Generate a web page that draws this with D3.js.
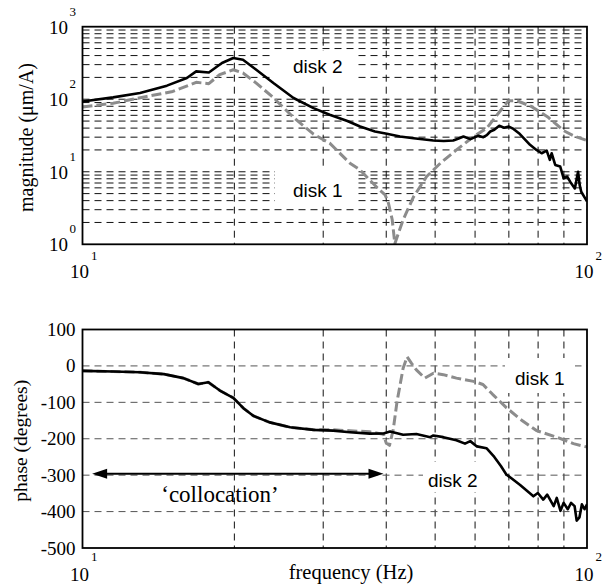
<!DOCTYPE html>
<html>
<head>
<meta charset="utf-8">
<script src="https://cdn.jsdelivr.net/npm/d3@7/dist/d3.min.js"></script>
<style>
  body { margin: 0; background: #fff; }
  svg { display: block; }
</style>
</head>
<body>
<script>
// ---------- data ----------
const magFreq2 = [10, 11.5, 13.0, 14.7, 16.1, 16.8, 17.8, 18.9, 19.9, 20.8, 22.1, 23.9, 26.2, 28.7, 30.9, 33.5, 35.5, 38.0, 40.1, 42.6, 45.3, 49.6, 52.0, 54.3, 55.5, 56.9, 58.7, 60.9, 62.3, 63.3, 64.3, 65.5, 67.0, 68.5, 70.0, 71.5, 73.3, 74.9, 77.1, 79.4, 81.3, 83.2, 84.4, 85.1, 86.5, 88.5, 89.9, 91.3, 92.6, 94.6, 96.0, 96.7, 97.4, 100];
const magDisk2 = [93, 106, 122, 154, 196, 242, 234, 316, 370, 351, 255, 167, 104, 75.5, 61, 50, 42, 36, 33.5, 30.6, 29, 27, 26.5, 27, 28.5, 30.6, 28.2, 31.3, 30.0, 32, 35.9, 38, 43, 40.5, 42, 39, 34, 29.1, 23.5, 20.0, 18, 19.6, 14.6, 18, 12.4, 11.8, 8.1, 8.6, 7.3, 5.9, 10.0, 6.6, 5.3, 3.9];

const magFreq1 = [10, 11.5, 13.4, 15.1, 16.8, 17.8, 18.7, 19.9, 20.8, 22.1, 23.9, 26.2, 28.7, 30.9, 33.9, 35.5, 37.1, 38.8, 39.8, 40.4, 41.1, 41.6, 42.4, 43.2, 45.3, 48.1, 51.2, 55.1, 59.6, 63.3, 66.5, 69.8, 72.5, 77.7, 83.6, 89.8, 94.4, 100];
const magDisk1 = [78, 88, 109, 128, 171, 164, 218, 255, 230, 167, 105, 56, 33, 24.8, 13.1, 10.6, 7.7, 5.6, 4.8, 3.7, 2.2, 1.02, 1.5, 2.17, 4.5, 8.6, 13.1, 20, 30.6, 40, 62, 95, 96, 79, 57, 37, 31, 27];

const phFreq2 = [10, 11.5, 13.0, 14.5, 15.85, 16.97, 17.76, 18.72, 19.9, 20.84, 21.8, 23.5, 25.8, 28.7, 31.4, 33.9, 37.1, 39.5, 40.7, 43.2, 45.9, 48.9, 49.6, 51.9, 55.1, 57.3, 58.7, 60.5, 63.2, 65.5, 67.5, 69.2, 73.7, 78.3, 79.9, 81.9, 83.4, 85.9, 87.1, 88.6, 89.9, 91.6, 93.0, 94.5, 95.4, 96.6, 97.7, 98.9, 100];
const phDisk2 = [-13.5, -15.4, -17.3, -22.6, -33.5, -49.6, -45, -67.6, -87.6, -116, -137, -155, -168.6, -175.7, -177.6, -182, -186, -185.5, -180, -189, -187, -195.6, -191, -195.6, -204, -213.5, -206.5, -221, -226, -250, -275, -298, -327, -358, -349, -367, -353.5, -385, -362.6, -398, -376, -393.6, -376, -385, -425, -416, -380, -393.6, -380];

const phFreq1 = [10, 11.5, 13.0, 14.5, 15.85, 16.97, 17.76, 18.72, 19.9, 20.84, 21.8, 23.5, 25.8, 28.7, 31.4, 33.9, 37.1, 39.5, 40.0, 40.6, 41.3, 42.0, 43.2, 44.0, 44.9, 45.9, 47.7, 49.6, 51.9, 55.1, 59.6, 62.2, 65.0, 69.2, 73.7, 79.4, 87.1, 94.0, 100];
const phDisk1 = [-13.5, -15.4, -17.3, -22.6, -33.5, -49.6, -45, -67.6, -87.6, -116, -137, -155, -168.6, -175, -175.5, -178, -181, -188, -212, -218, -175, -100, -6.5, 25, 7, -11, -33.5, -20, -24, -33.5, -42.4, -51, -78, -114.6, -146, -177.6, -195.6, -213.5, -222.7];

const freqTicks = [10, 100];
const freqTickExp = ["1", "2"];
const magTicks = [1, 10, 100, 1000];
const magTickExp = ["0", "1", "2", "3"];
const phaseTicks = [100, 0, -100, -200, -300, -400, -500];
const collocation = { from: 10.45, to: 39.5, phase: -300 };

// ---------- layout ----------
const W = 605, H = 585;
const L = 82.5, R = 587;
const magTop = 26.7, magBot = 244.3;
const phTop = 329.5, phBot = 548;
const serif = "'Liberation Serif', 'Times New Roman', serif";
const sans = "'Liberation Sans', Arial, sans-serif";

const svg = d3.select("body").append("svg").attr("width", W).attr("height", H);

const x = d3.scaleLog().domain([10, 100]).range([L, R]);
const yMag = d3.scaleLog().domain([1, 1000]).range([magBot, magTop]);
const yPh = d3.scaleLinear().domain([-500, 100]).range([phBot, phTop]);

const defs = svg.append("defs");
defs.append("clipPath").attr("id", "clipMag").append("rect")
  .attr("x", L).attr("y", magTop).attr("width", R - L).attr("height", magBot - magTop);
defs.append("clipPath").attr("id", "clipPh").append("rect")
  .attr("x", L).attr("y", phTop).attr("width", R - L).attr("height", phBot - phTop);

// ---------- magnitude plot ----------
const gM = svg.append("g");
// grid
const xGrid = x.ticks().filter(v => v > 10 && v < 100);
gM.selectAll("line.vg").data(xGrid).enter().append("line")
  .attr("x1", d => x(d)).attr("x2", d => x(d))
  .attr("y1", magTop).attr("y2", magBot)
  .attr("stroke", "#111").attr("stroke-width", 1).attr("stroke-dasharray", "7,5");
const magGrid = yMag.ticks().filter(v => v > 1 && v < 1000);
gM.selectAll("line.hg").data(magGrid).enter().append("line")
  .attr("x1", L).attr("x2", R)
  .attr("y1", d => yMag(d)).attr("y2", d => yMag(d))
  .attr("stroke", "#111").attr("stroke-width", 1).attr("stroke-dasharray", "7,5");

// white label boxes
gM.append("rect").attr("x", 273).attr("y", 51).attr("width", 82).attr("height", 31).attr("fill", "#fff");
gM.append("rect").attr("x", 275).attr("y", 166).attr("width", 82).attr("height", 39).attr("fill", "#fff");

const lineMag = (fs, vs) => d3.line().x((d, i) => x(fs[i])).y((d, i) => yMag(vs[i]))(vs);
const gMc = gM.append("g").attr("clip-path", "url(#clipMag)");
gMc.append("path").attr("d", lineMag(magFreq1, magDisk1))
  .attr("fill", "none").attr("stroke", "#8c8c8c").attr("stroke-width", 3)
  .attr("stroke-dasharray", "10,4").attr("stroke-linejoin", "round");
gMc.append("path").attr("d", lineMag(magFreq2, magDisk2))
  .attr("fill", "none").attr("stroke", "#000").attr("stroke-width", 2.6)
  .attr("stroke-linejoin", "round");

gM.append("rect").attr("x", L).attr("y", magTop).attr("width", R - L).attr("height", magBot - magTop)
  .attr("fill", "none").attr("stroke", "#000").attr("stroke-width", 1.8);

gM.append("text").attr("x", 293).attr("y", 72.5).attr("font-family", sans).attr("font-size", 19).text("disk 2");
gM.append("text").attr("x", 293).attr("y", 196.5).attr("font-family", sans).attr("font-size", 19).text("disk 1");

// y tick labels
magTicks.forEach((v, i) => {
  const yy = yMag(v);
  gM.append("text").attr("x", 68).attr("y", yy + 7).attr("text-anchor", "end")
    .attr("font-family", serif).attr("font-size", 19).text("10");
  gM.append("text").attr("x", 69.5).attr("y", yy - 11).attr("font-family", serif).attr("font-size", 13).text(magTickExp[i]);
});
// x tick labels
freqTicks.forEach((v, i) => {
  const xx = x(v);
  gM.append("text").attr("x", xx - 3).attr("y", 278).attr("text-anchor", "middle")
    .attr("font-family", serif).attr("font-size", 19).text("10");
  gM.append("text").attr("x", xx + 8.5).attr("y", 260).attr("font-family", serif).attr("font-size", 13).text(freqTickExp[i]);
});
gM.append("text").attr("transform", `translate(33,${(magTop + magBot) / 2 + 2}) rotate(-90)`)
  .attr("text-anchor", "middle").attr("font-family", serif).attr("font-size", 20).text("magnitude (μm/A)");

// ---------- phase plot ----------
const gP = svg.append("g");
gP.selectAll("line.vg").data(xGrid).enter().append("line")
  .attr("x1", d => x(d)).attr("x2", d => x(d))
  .attr("y1", phTop).attr("y2", phBot)
  .attr("stroke", "#111").attr("stroke-width", 1).attr("stroke-dasharray", "7,5");
const phGrid = phaseTicks.filter(v => v > -500 && v < 100);
gP.selectAll("line.hg").data(phGrid).enter().append("line")
  .attr("x1", L).attr("x2", R)
  .attr("y1", d => yPh(d)).attr("y2", d => yPh(d))
  .attr("stroke", "#555").attr("stroke-width", 1).attr("stroke-dasharray", "7,5");

gP.append("rect").attr("x", 505).attr("y", 358).attr("width", 70).attr("height", 35).attr("fill", "#fff");
gP.append("rect").attr("x", 423).attr("y", 462).attr("width", 82).attr("height", 30).attr("fill", "#fff");

const linePh = (fs, vs) => d3.line().x((d, i) => x(fs[i])).y((d, i) => yPh(vs[i]))(vs);
const gPc = gP.append("g").attr("clip-path", "url(#clipPh)");
gPc.append("path").attr("d", linePh(phFreq1, phDisk1))
  .attr("fill", "none").attr("stroke", "#8c8c8c").attr("stroke-width", 3)
  .attr("stroke-dasharray", "10,4").attr("stroke-linejoin", "round");
gPc.append("path").attr("d", linePh(phFreq2, phDisk2))
  .attr("fill", "none").attr("stroke", "#000").attr("stroke-width", 2.6)
  .attr("stroke-linejoin", "round");

// collocation arrow
const ax1 = x(collocation.from), ax2 = x(collocation.to), ay = yPh(collocation.phase) - 1.5;
gP.append("line").attr("x1", ax1 + 10).attr("x2", ax2 - 10).attr("y1", ay).attr("y2", ay)
  .attr("stroke", "#000").attr("stroke-width", 2);
gP.append("path").attr("d", `M${ax1},${ay} L${ax1 + 15},${ay - 5} L${ax1 + 15},${ay + 5} Z`).attr("fill", "#000");
gP.append("path").attr("d", `M${ax2},${ay} L${ax2 - 15},${ay - 5} L${ax2 - 15},${ay + 5} Z`).attr("fill", "#000");
gP.append("text").attr("x", 220).attr("y", 502).attr("text-anchor", "middle")
  .attr("font-family", serif).attr("font-size", 23).text("\u2018collocation\u2019");

gP.append("rect").attr("x", L).attr("y", phTop).attr("width", R - L).attr("height", phBot - phTop)
  .attr("fill", "none").attr("stroke", "#000").attr("stroke-width", 1.8);

gP.append("text").attr("x", 515).attr("y", 385).attr("font-family", sans).attr("font-size", 19).text("disk 1");
gP.append("text").attr("x", 428).attr("y", 486.5).attr("font-family", sans).attr("font-size", 19).text("disk 2");

phaseTicks.forEach(v => {
  gP.append("text").attr("x", 75.5).attr("y", yPh(v) + 6.5).attr("text-anchor", "end")
    .attr("font-family", serif).attr("font-size", 19).text(v);
});
freqTicks.forEach((v, i) => {
  const xx = x(v);
  gP.append("text").attr("x", xx - 3).attr("y", 581).attr("text-anchor", "middle")
    .attr("font-family", serif).attr("font-size", 19).text("10");
  gP.append("text").attr("x", xx + 8.5).attr("y", 561).attr("font-family", serif).attr("font-size", 13).text(freqTickExp[i]);
});
gP.append("text").attr("transform", `translate(27,${(phTop + phBot) / 2 + 2}) rotate(-90)`)
  .attr("text-anchor", "middle").attr("font-family", serif).attr("font-size", 19.5).text("phase (degrees)");
gP.append("text").attr("x", 351).attr("y", 579).attr("text-anchor", "middle")
  .attr("font-family", serif).attr("font-size", 20.5).text("frequency (Hz)");
</script>
</body>
</html>
